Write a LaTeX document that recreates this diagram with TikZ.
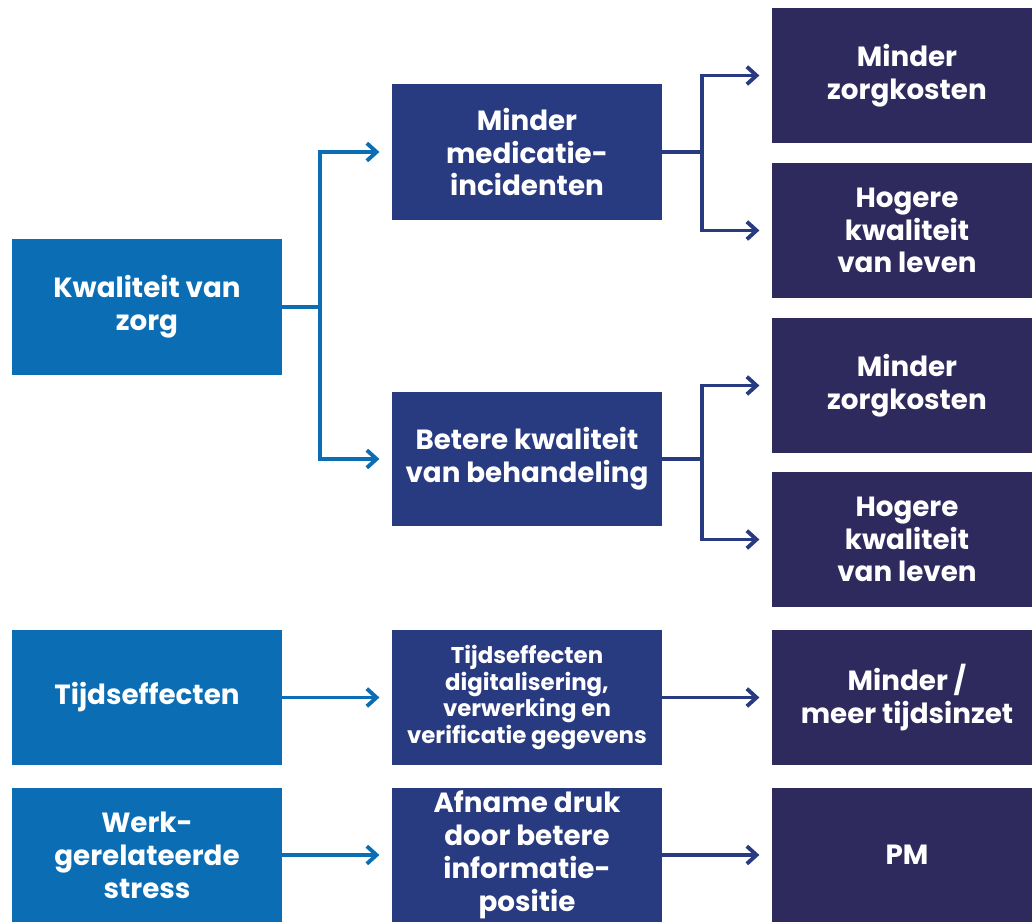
\documentclass[tikz,border=0pt]{standalone}
\usepackage{fontspec}
\setmainfont{Poppins}
\usetikzlibrary{arrows.meta}

\definecolor{zorgblue}{HTML}{0B6DB3}
\definecolor{midblue}{HTML}{283A80}
\definecolor{darkpurple}{HTML}{2F2A5E}

\begin{document}
\begin{tikzpicture}[x=0.02cm, y=-0.02cm,
    box/.style={minimum height=2.72cm, inner sep=1pt, align=center, text=white,
        font=\bfseries\fontsize{15.8}{18.7}\selectfont},
    leftbox/.style={box, fill=zorgblue, minimum width=5.4cm},
    midbox/.style={box, fill=midblue, minimum width=5.4cm},
    rightbox/.style={box, fill=darkpurple, minimum width=5.4cm},
    arr/.style={line width=2.2pt, -{Straight Barb[length=5.5pt, width=10pt, line width=2.2pt]}, shorten >=7pt},
    ]
        \useasboundingbox (0,0) rectangle (1032,922);

        % left column
        \node[leftbox] (kwal) at (147,307) {Kwaliteit van\\zorg};
        \node[leftbox] (tijd) at (147,697.5) {Tijdseffecten};
        \node[leftbox, minimum height=2.68cm] (werk) at (147,855) {Werk-\\gerelateerde\\stress};

        % middle column
        \node[midbox] (med) at (527,152) {Minder\\medicatie-\\incidenten};
        \node[midbox, minimum height=2.68cm] (beter) at (527,459) {Betere kwaliteit\\van behandeling};
        \node[midbox, font=\bfseries\fontsize{13}{15.3}\selectfont] (digi) at (527,697.5) {Tijdseffecten\\digitalisering,\\verwerking en\\verificatie gegevens};
        \node[midbox, minimum height=2.68cm] (druk) at (527,855) {Afname druk\\door betere\\informatie-\\positie};

        % right column (runs off the page edge)
        \node[rightbox] (kost1) at (907,75.5) {Minder\\zorgkosten};
        \node[rightbox] (leven1) at (907,230.5) {Hogere\\kwaliteit\\van leven};
        \node[rightbox] (kost2) at (907,385.5) {Minder\\zorgkosten};
        \node[rightbox] (leven2) at (907,539.5) {Hogere\\kwaliteit\\van leven};
        \node[rightbox] (inzet) at (907,697.5) {Minder /\\meer tijdsinzet};
        \node[rightbox, minimum height=2.68cm] (pm) at (907,855) {PM};

        % connectors
        \draw[line width=2.2pt, zorgblue] (kwal.east) -- ++(38,0) coordinate (s1);
        \draw[arr, zorgblue] (s1) |- (med.west);
        \draw[arr, zorgblue] (s1) |- (beter.west);
        \draw[arr, zorgblue] (tijd) -- (digi);
        \draw[arr, zorgblue] (werk) -- (druk);

        \draw[line width=2.2pt, midblue] (med.east) -- ++(40,0) coordinate (s2);
        \draw[arr, midblue] (s2) |- (kost1.west);
        \draw[arr, midblue] (s2) |- (leven1.west);
        \draw[line width=2.2pt, midblue] (beter.east) -- ++(40,0) coordinate (s3);
        \draw[arr, midblue] (s3) |- (kost2.west);
        \draw[arr, midblue] (s3) |- (leven2.west);
        \draw[arr, midblue] (digi) -- (inzet);
        \draw[arr, midblue] (druk) -- (pm);
    \end{tikzpicture}
\end{document}
